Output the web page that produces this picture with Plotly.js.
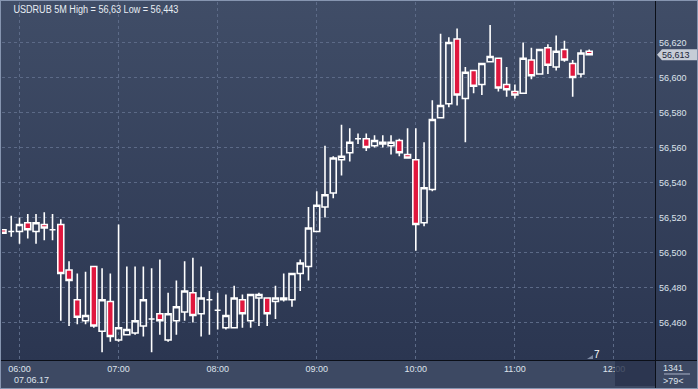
<!DOCTYPE html>
<html>
<head>
<meta charset="utf-8">
<script src="https://cdn.plot.ly/plotly-3.0.1.min.js"></script>
<style>
  html, body { margin:0; padding:0; background:#2b3651; }
  #wrap { position:relative; width:698px; height:389px; overflow:hidden;
          background:linear-gradient(to bottom, #404d67 0px, #2b3651 360px, #2b3651 389px); }
  #strip { position:absolute; left:0; top:361px; width:698px; height:28px; background:#3d4963; }
  #vline { position:absolute; left:655px; top:0; width:1px; height:389px; background:#0b0f18; z-index:3; }
  #hline { position:absolute; left:0; top:360px; width:698px; height:1px; background:#0b0f18; z-index:3; }
  #scroll { position:absolute; left:615px; top:361px; width:40px; height:25px; background:rgba(40,50,76,0.82); z-index:4; pointer-events:none; }
  #border { position:absolute; left:0; top:0; width:698px; height:389px; box-sizing:border-box;
            border:1px solid #8695b0; z-index:5; pointer-events:none; }
  #chart { position:absolute; left:0; top:0; width:698px; height:389px; z-index:2; }
</style>
</head>
<body>
<div id="wrap">
  <div id="strip"></div>
  <div id="chart"></div>
  <div id="vline"></div>
  <div id="hline"></div>
  <div id="scroll"></div>
  <div id="border"></div>
</div>
<script>
// ---- data ----
const dateStr = '2017-06-07';
const times = ['05:50','05:55',
  '06:00','06:05','06:10','06:15','06:20','06:25','06:30','06:35','06:40','06:45','06:50','06:55',
  '07:00','07:05','07:10','07:15','07:20','07:25','07:30','07:35','07:40','07:45','07:50','07:55',
  '08:00','08:05','08:10','08:15','08:20','08:25','08:30','08:35','08:40','08:45','08:50','08:55',
  '09:00','09:05','09:10','09:15','09:20','09:25','09:30','09:35','09:40','09:45','09:50','09:55',
  '10:00','10:05','10:10','10:15','10:20','10:25','10:30','10:35','10:40','10:45','10:50','10:55',
  '11:00','11:05','11:10','11:15','11:20','11:25','11:30','11:35','11:40','11:45'];
const openP = [56.513,56.512,
  56.512,56.517,56.512,56.516,56.513,56.516,56.490,56.473,56.461,56.492,56.455,56.472,
  56.450,56.453,56.454,56.458,56.462,56.465,56.450,56.461,56.466,56.477,56.465,56.473,
  56.467,56.457,56.457,56.473,56.461,56.474,56.474,56.472,56.473,56.473,56.488,56.492,
  56.512,56.526,56.534,56.553,56.557,56.565,56.565,56.561,56.562,56.561,56.564,56.556,
  56.553,56.517,56.536,56.577,56.585,56.622,56.588,56.604,56.596,56.609,56.611,56.596,
  56.592,56.591,56.610,56.602,56.617,56.606,56.616,56.608,56.602,56.615];
const highP = [56.513,56.521,
  56.520,56.522,56.522,56.523,56.522,56.519,56.495,56.488,56.489,56.492,56.491,56.488,
  56.516,56.492,56.492,56.492,56.491,56.496,56.477,56.484,56.495,56.497,56.492,56.478,
  56.477,56.476,56.481,56.476,56.476,56.477,56.474,56.481,56.488,56.488,56.496,56.526,
  56.535,56.561,56.555,56.573,56.571,56.568,56.568,56.567,56.567,56.567,56.565,56.571,
  56.571,56.563,56.587,56.625,56.623,56.628,56.606,56.604,56.608,56.630,56.611,56.606,
  56.596,56.620,56.617,56.616,56.619,56.624,56.621,56.610,56.616,56.616];
const lowP = [56.511,56.509,
  56.505,56.508,56.505,56.507,56.507,56.461,56.458,56.459,56.459,56.457,56.443,56.449,
  56.449,56.453,56.453,56.452,56.443,56.453,56.449,56.453,56.461,56.460,56.452,56.453,
  56.456,56.456,56.457,56.457,56.457,56.458,56.458,56.462,56.472,56.469,56.478,56.484,
  56.512,56.520,56.531,56.544,56.552,56.562,56.558,56.560,56.560,56.556,56.555,56.554,
  56.501,56.515,56.535,56.577,56.583,56.584,56.563,56.591,56.590,56.609,56.592,56.589,
  56.588,56.591,56.599,56.602,56.602,56.604,56.609,56.589,56.600,56.613];
const closeP = [56.511,56.512,
  56.516,56.513,56.517,56.514,56.513,56.488,56.484,56.463,56.464,56.458,56.473,56.452,
  56.457,56.456,56.461,56.473,56.462,56.461,56.465,56.469,56.478,56.464,56.474,56.473,
  56.467,56.464,56.474,56.465,56.476,56.476,56.465,56.474,56.474,56.488,56.494,56.514,
  56.527,56.533,56.554,56.555,56.563,56.565,56.560,56.564,56.563,56.563,56.557,56.554,
  56.516,56.537,56.576,56.584,56.620,56.590,56.603,56.595,56.608,56.612,56.594,56.593,
  56.590,56.611,56.601,56.616,56.607,56.615,56.610,56.600,56.614,56.613];
const xTickLabels = ['06:00','07:00','08:00','09:00','10:00','11:00','12:00'];
const yTickVals = [56.46,56.48,56.50,56.52,56.54,56.56,56.58,56.60,56.62];
const titleText = 'USDRUB 5M High = 56,63 Low = 56,443';
const dateLabel = '07.06.17';
const barCountText = '1341';
const scaleText = '>79<';
const markerText = '7';

// ---- build ----
const xs = times.map(t => dateStr + ' ' + t);
const lastClose = closeP[closeP.length - 1];
const tickFont = {family:'"Liberation Sans", Arial, sans-serif', size:9, color:'#dde3ec'};

const trace = {
  type:'candlestick', x:xs, open:openP, high:highP, low:lowP, close:closeP,
  increasing:{line:{color:'#ffffff', width:1.6}, fillcolor:'rgba(0,0,0,0)'},
  decreasing:{line:{color:'#ffffff', width:1.6}, fillcolor:'#e0173e'},
  whiskerwidth:0, hoverinfo:'skip', showlegend:false
};

const layout = {
  width:698, height:389,
  margin:{l:2, r:43, t:2, b:29, pad:0},
  paper_bgcolor:'rgba(0,0,0,0)', plot_bgcolor:'rgba(0,0,0,0)',
  separators:', ',
  showlegend:false,
  boxgap:0.15, boxgroupgap:0.15,
  xaxis:{
    type:'date',
    range:[dateStr + ' 05:49:24', dateStr + ' 12:24:51'],
    tickvals:xTickLabels.map(t => dateStr + ' ' + t),
    ticktext:xTickLabels,
    showgrid:true, gridcolor:'#5c6a87', gridwidth:1, griddash:'3px,3px',
    zeroline:false, showline:false, ticks:'', ticklabelstandoff:2,
    tickfont:tickFont,
    rangeslider:{visible:false}, fixedrange:true
  },
  yaxis:{
    side:'right',
    range:[56.4386, 56.6431],
    tickvals:yTickVals, tickformat:'.3f',
    showgrid:true, gridcolor:'#5c6a87', gridwidth:1, griddash:'3px,3px',
    zeroline:false, showline:false, ticks:'', ticklabelstandoff:3,
    tickfont:tickFont, fixedrange:true
  },
  shapes:[
    {type:'path', xref:'paper', yref:'y', xsizemode:'pixel', ysizemode:'pixel',
     xanchor:1, yanchor:lastClose,
     path:'M 2,0 L 7,5.5 L 43,5.5 L 43,-5.5 L 7,-5.5 Z',
     fillcolor:'#c6ccd6', line:{width:0}, layer:'above'},
    {type:'line', xref:'paper', yref:'paper', x0:1.0138, x1:1.0536, y0:-0.0391, y1:-0.0391,
     line:{color:'#aab4c6', width:1}},
    {type:'path', xref:'paper', yref:'paper', xsizemode:'pixel', ysizemode:'pixel',
     xanchor:0.9112, yanchor:0.014,
     path:'M -10,-4 L -4,-4 L -4,0 Z',
     fillcolor:'#7d8aa3', line:{width:0}}
  ],
  annotations:[
    {text:titleText, xref:'paper', yref:'paper', x:0.0015, y:0.999, xanchor:'left', yanchor:'top',
     showarrow:false, font:{family:'"Liberation Sans", Arial, sans-serif', size:10, color:'#e8edf4'}},
    {text:String(lastClose.toFixed(3)).replace('.', ','), xref:'paper', yref:'y', x:1, y:lastClose,
     xanchor:'left', yanchor:'middle', xshift:5, showarrow:false,
     font:{family:'"Liberation Sans", Arial, sans-serif', size:9, color:'#1b2436'}},
    {text:dateLabel, xref:'paper', yref:'paper', x:0.0153, y:-0.0559, xanchor:'left', yanchor:'middle',
     showarrow:false, font:tickFont},
    {text:markerText, xref:'paper', yref:'paper', x:0.9112, y:0.014, xanchor:'center', yanchor:'middle',
     showarrow:false, font:{family:'"Liberation Sans", Arial, sans-serif', size:10, color:'#ffffff'}},
    {text:barCountText, xref:'paper', yref:'paper', x:1.0276, y:-0.0223, xanchor:'center', yanchor:'middle',
     showarrow:false, font:tickFont},
    {text:scaleText, xref:'paper', yref:'paper', x:1.0276, y:-0.0587, xanchor:'center', yanchor:'middle',
     showarrow:false, font:tickFont}
  ]
};

function squeezeTitle() {
  // the original title uses a condensed face: compress the real text to its width
  var t = document.querySelector('#chart g.annotation[data-index="0"] text');
  if (t) { t.setAttribute('textLength', '165'); t.setAttribute('lengthAdjust', 'spacingAndGlyphs'); }
}
Plotly.newPlot('chart', [trace], layout, {displayModeBar:false, staticPlot:true}).then(function () {
  squeezeTitle();
  setTimeout(squeezeTitle, 50);
});
</script>
</body>
</html>
